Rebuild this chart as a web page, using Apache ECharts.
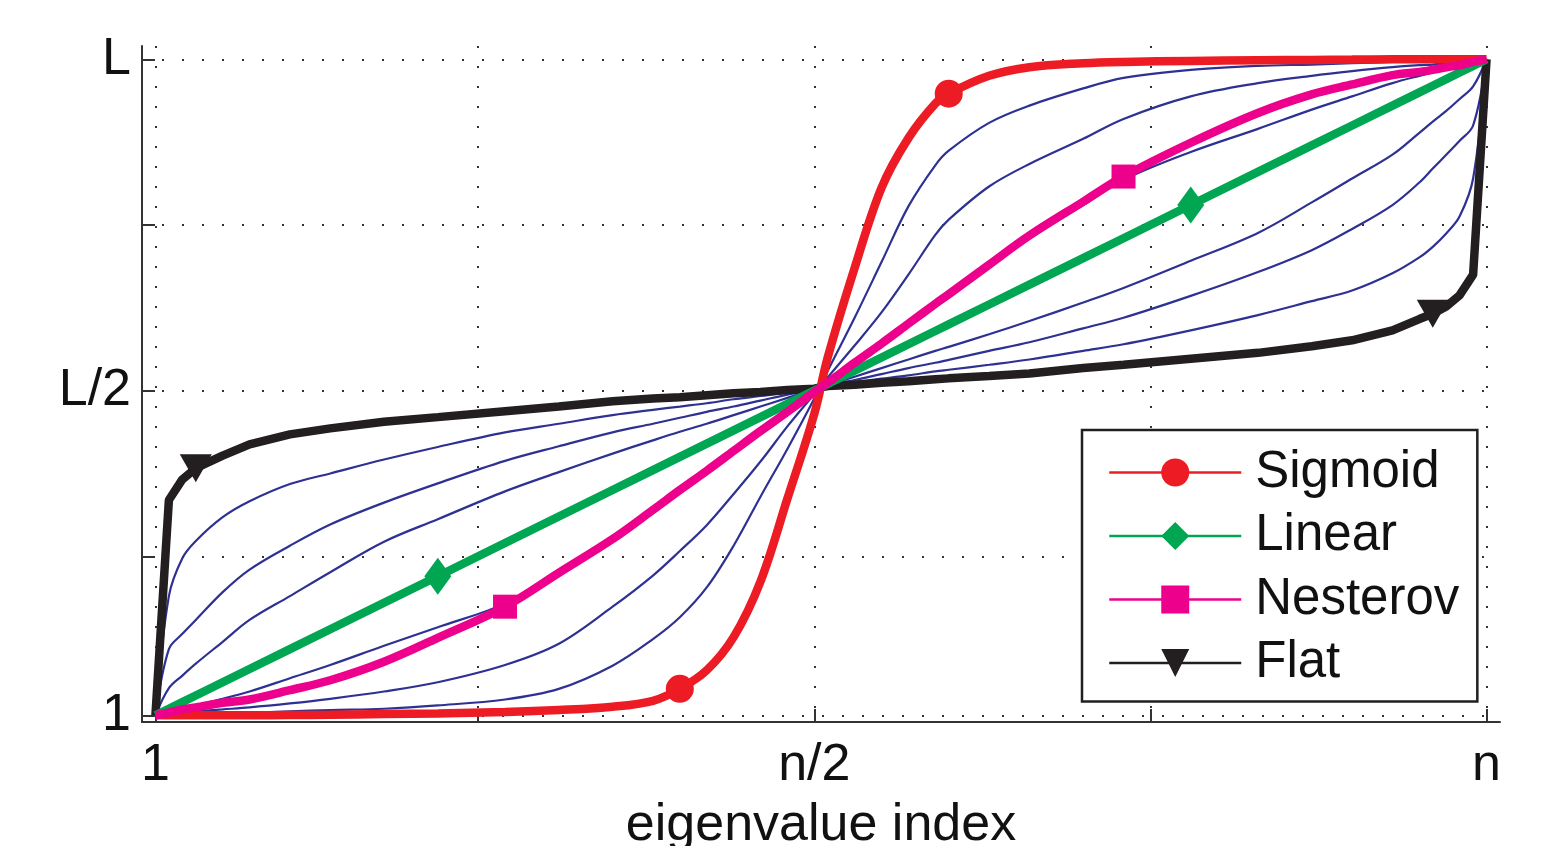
<!DOCTYPE html>
<html>
<head>
<meta charset="utf-8">
<title>eigenvalue profiles</title>
<script src="https://cdn.jsdelivr.net/npm/echarts@6/dist/echarts.min.js"></script>
<style>
  html, body { margin: 0; padding: 0; background: #fff; }
  #chart { width: 1548px; height: 846px; }
</style>
</head>
<body>
<div id="chart"></div>
<script>
// eigenvalue index, 1..n (n = 100), shared by every curve
var idx = [1, 2, 3, 4, 6, 8, 11, 14, 18, 22, 27, 31, 35, 38, 40, 42, 44, 46, 48, 50,
           51, 53, 55, 57, 59, 60, 63, 66, 70, 73, 78, 83, 87, 90, 93, 95, 96, 97, 98, 99, 100];

// the four named profiles (eigenvalue, 1..L with L = 100)
var sigmoid  = [1, 1, 1, 1, 1, 1, 1.05, 1.1, 1.2, 1.3, 1.5, 1.8, 2.3, 3.2, 5.0, 7.8, 12.8, 21.2, 33.7, 46.5,
                55.0, 68.5, 80.6, 88.1, 93.3, 94.8, 97.5, 98.8, 99.4, 99.6, 99.75, 99.85, 99.9, 99.95, 100, 100, 100, 100, 100, 100, 100];
var linear   = [1, 2, 3, 4, 6, 8, 11, 14, 18, 22, 27, 31, 35, 38, 40, 42, 44, 46, 48, 50,
                51, 53, 55, 57, 59, 60, 63, 66, 70, 73, 78, 83, 87, 90, 93, 95, 96, 97, 98, 99, 100];
var nesterov = [1, 1.4, 1.9, 2.2, 2.9, 3.4, 4.8, 6.3, 9.1, 12.7, 17.4, 22.5, 27.6, 32.0, 35.0, 37.9, 40.9, 43.9, 46.8, 49.8,
                51.2, 54.2, 57.1, 60.1, 63.1, 64.55, 69.0, 73.4, 78.5, 82.3, 87.4, 91.9, 94.7, 96.2, 97.6, 98.1, 98.4, 98.8, 99.1, 99.6, 100];
var flat     = [1, 33.5, 36.6, 38.3, 40.2, 41.9, 43.4, 44.3, 45.3, 46.0, 46.9, 47.6, 48.4, 48.8, 49.0, 49.3, 49.6, 49.8, 50.1, 50.3,
                50.7, 50.9, 51.2, 51.4, 51.7, 51.85, 52.2, 52.6, 53.4, 53.9, 54.8, 55.7, 56.7, 57.6, 59.1, 60.8, 61.6, 62.7, 64.4, 67.5, 100];

// where the markers sit (eigenvalue index)
var sigmoidMarks  = [40, 60];
var linearMarks   = [22, 78];
var nesterovMarks = [27, 73];
var flatMarks     = [4, 96];

// thin blue family in between: three towards Flat, three towards Sigmoid
var flatward1 = [1, 19, 24.7, 27.3, 30.9, 33.3, 35.9, 37.5, 39.6, 41.5, 43.7, 45.0, 46.3, 47.1, 47.6, 48.1, 48.7, 49.2, 49.7, 50.3,
                 50.7, 51.3, 51.8, 52.3, 52.9, 53.15, 53.9, 54.7, 56.0, 57.0, 59.1, 61.4, 63.5, 65.1, 67.7, 70.1, 71.7, 73.7, 76.3, 82.0, 100];
var flatward2 = [1, 11, 13.3, 15.4, 19.6, 23.0, 26.6, 29.8, 33.1, 36.0, 39.4, 41.6, 43.7, 45.0, 45.9, 46.8, 47.6, 48.5, 49.4, 50.2,
                 50.8, 51.6, 52.5, 53.4, 54.2, 54.65, 56.0, 57.3, 59.4, 61.0, 64.3, 67.9, 71.2, 74.4, 78.0, 81.4, 83.5, 85.6, 87.7, 90.0, 100];
var flatward3 = [1, 5.1, 7.0, 8.8, 12.1, 15.4, 19.0, 22.6, 27.2, 30.6, 34.8, 37.7, 40.5, 42.5, 43.8, 45.0, 46.3, 47.6, 48.9, 50.2,
                 50.8, 52.1, 53.4, 54.7, 56.0, 56.6, 58.5, 60.5, 63.3, 65.5, 69.6, 73.8, 78.4, 82.0, 85.6, 88.9, 90.6, 92.2, 94.0, 95.9, 100];
var sigward1  = [1, 1.5, 2.0, 2.5, 3.5, 4.6, 6.6, 8.6, 11.5, 14.3, 17.9, 23.0, 28.0, 32.3, 35.2, 38.1, 41.0, 43.9, 46.8, 49.8,
                 51.2, 54.2, 57.1, 60.0, 62.9, 64.4, 68.7, 73.0, 78.0, 81.8, 86.0, 89.5, 92.4, 94.4, 96.4, 97.5, 98.0, 98.5, 99.0, 99.5, 100];
var sigward2  = [1, 1.2, 1.4, 1.6, 1.9, 2.2, 2.8, 3.5, 4.6, 6.0, 8.6, 11.8, 17.4, 22.1, 25.8, 29.7, 34.4, 39.3, 44.6, 49.5,
                 52.0, 56.8, 61.8, 67.5, 73.5, 75.8, 80.8, 84.2, 88.0, 91.0, 94.4, 96.4, 97.5, 98.2, 98.8, 99.1, 99.2, 99.4, 99.6, 99.8, 100];
var sigward3  = [1, 1.05, 1.1, 1.15, 1.25, 1.4, 1.6, 1.8, 2.0, 2.5, 3.4, 5.0, 8.5, 12.5, 15.8, 20.3, 26.6, 34.0, 41.2, 48.8,
                 53.0, 61.0, 69.4, 77.8, 84.0, 86.2, 90.4, 93.0, 95.6, 97.2, 98.4, 99.0, 99.2, 99.4, 99.6, 99.75, 99.8, 99.85, 99.9, 99.95, 100];

// ticks and their labels
var xTicks = [1, 25, 50, 75, 100];
var yTicks = [1, 25, 50, 75, 100];
var xLabels = { 1: '1', 50: 'n/2', 100: 'n' };
var yLabels = { 1: '1', 50: 'L/2', 100: 'L' };

var FONT = 'Liberation Sans';
var INK = '#231f20';

var chart = echarts.init(document.getElementById('chart'));

function pts(ys, marks) {
  return idx.map(function (x, i) {
    var p = [x, ys[i]];
    if (marks && marks.indexOf(x) >= 0) return p;
    return { value: p, symbol: 'none' };
  });
}

function thin(ys) {
  return {
    type: 'line', data: pts(ys), symbol: 'none', smooth: 0.35,
    lineStyle: { color: '#2e3192', width: 2.2 }, z: 2, silent: true
  };
}

function thick(name, ys, marks, color, symbol, size, rotate, smooth, z) {
  return {
    name: name, type: 'line', data: pts(ys, marks),
    symbol: symbol, symbolSize: size, symbolRotate: rotate || 0,
    smooth: smooth,
    lineStyle: { color: color, width: 8.5 },
    itemStyle: { color: color, opacity: 1 },
    z: z, silent: true
  };
}

var dotted = { color: '#333', width: 2, type: [2, 18] };

chart.setOption({
  animation: false,
  textStyle: { fontFamily: FONT },
  grid: { left: 142, right: 48, top: 46, bottom: 124, outerBoundsMode: 'none' },
  legend: {
    data: ['Sigmoid', 'Linear', 'Nesterov', 'Flat'],
    orient: 'vertical',
    left: 1082, top: 430,
    padding: [17, 18, 13, 26],
    itemWidth: 132, itemHeight: 35, itemGap: 12.5,
    backgroundColor: '#fff',
    borderColor: INK, borderWidth: 2.5, borderRadius: 0,
    lineStyle: { width: 2.5 },
    textStyle: { fontFamily: FONT, fontSize: 51, color: '#111', padding: [0, 0, 0, 9] },
    selectedMode: false
  },
  xAxis: {
    type: 'value', min: 0, max: 101,
    name: 'eigenvalue index', nameLocation: 'middle', nameGap: 78,
    nameTextStyle: { fontFamily: FONT, fontSize: 52, color: '#111' },
    axisLine: { lineStyle: { color: '#333', width: 2 } },
    axisTick: { inside: true, length: 13, lineStyle: { color: '#333', width: 2 }, customValues: xTicks },
    axisLabel: {
      customValues: [1, 50, 100], margin: 18, fontSize: 52, color: '#111', fontFamily: FONT,
      formatter: function (v) { return xLabels[v] || ''; }
    },
    splitLine: { show: true, lineStyle: dotted }
  },
  yAxis: {
    type: 'value', min: 0, max: 102,
    axisLine: { show: true, lineStyle: { color: '#333', width: 2 } },
    axisTick: { show: true, inside: true, length: 13, lineStyle: { color: '#333', width: 2 }, customValues: yTicks },
    axisLabel: {
      customValues: [1, 50, 100], margin: 11, fontSize: 52, color: '#111', fontFamily: FONT,
      formatter: function (v) { return yLabels[v] || ''; }
    },
    splitLine: { show: true, lineStyle: dotted }
  },
  series: [
    thin(flatward1), thin(flatward2), thin(flatward3),
    thin(sigward1), thin(sigward2), thin(sigward3),
    thick('Flat', flat, flatMarks, INK, 'triangle', [32, 28], 180, false, 3),
    thick('Sigmoid', sigmoid, sigmoidMarks, '#ed1c24', 'circle', 28, 0, 0.35, 4),
    thick('Linear', linear, linearMarks, '#00a651', 'diamond', [27, 37], 0, false, 5),
    thick('Nesterov', nesterov, nesterovMarks, '#ec008c', 'rect', 24, 0, 0.35, 6)
  ]
});
</script>
</body>
</html>
